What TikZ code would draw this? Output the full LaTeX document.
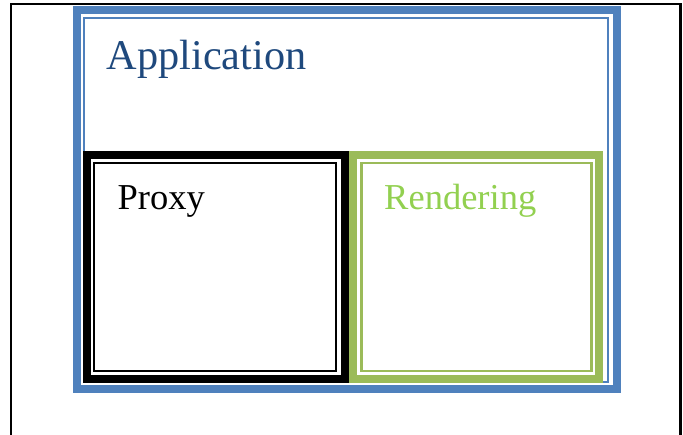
\documentclass[tikz,border=0pt]{standalone}
\usepackage{fontspec}
\setmainfont{Liberation Serif}
\definecolor{appblue}{HTML}{4F81BD}
\definecolor{apptext}{HTML}{1F497D}
\definecolor{rendgreen}{HTML}{9BBB59}
\definecolor{rendtext}{HTML}{92D050}
\begin{document}
\begin{tikzpicture}[x=1pt,y=-1pt,
  thickline/.style={line width=8pt, line join=miter},
  thinline/.style={line width=2.4pt, line join=miter},
  pagebox/.style={line width=2.6pt, black},
  label/.style={anchor=base west, inner sep=0pt, font=\fontsize{#1}{#1}\selectfont},
]
\useasboundingbox (0,0) rectangle (683,435);
% page frame
\draw[pagebox] (11,440) -- (11,4) -- (680.6,4) -- (680.6,440);
% Application frame
\draw[thickline, appblue] (76.7,10) rectangle (616.7,389.5);
\draw[thinline, appblue, line width=2pt] (84.3,17.7) rectangle (607.8,381.8);
% Proxy frame
\draw[thickline, black] (87.3,155.3) rectangle (345.3,378.7);
\draw[thinline, black] (94,163.3) rectangle (336,371);
% Rendering frame
\draw[thickline, rendgreen] (353.3,155.3) rectangle (599.3,379.3);
\draw[thinline, rendgreen] (361.3,163.3) rectangle (591.3,371);
% labels
\node[label=42.3, text=apptext] (app) at (106.5,70) {Application};
\node[label=36.5, text=black] (proxy) at (117.5,210) {Proxy};
\node[label=36.5, text=rendtext] (rend) at (384,210) {Rendering};
\end{tikzpicture}
\end{document}
